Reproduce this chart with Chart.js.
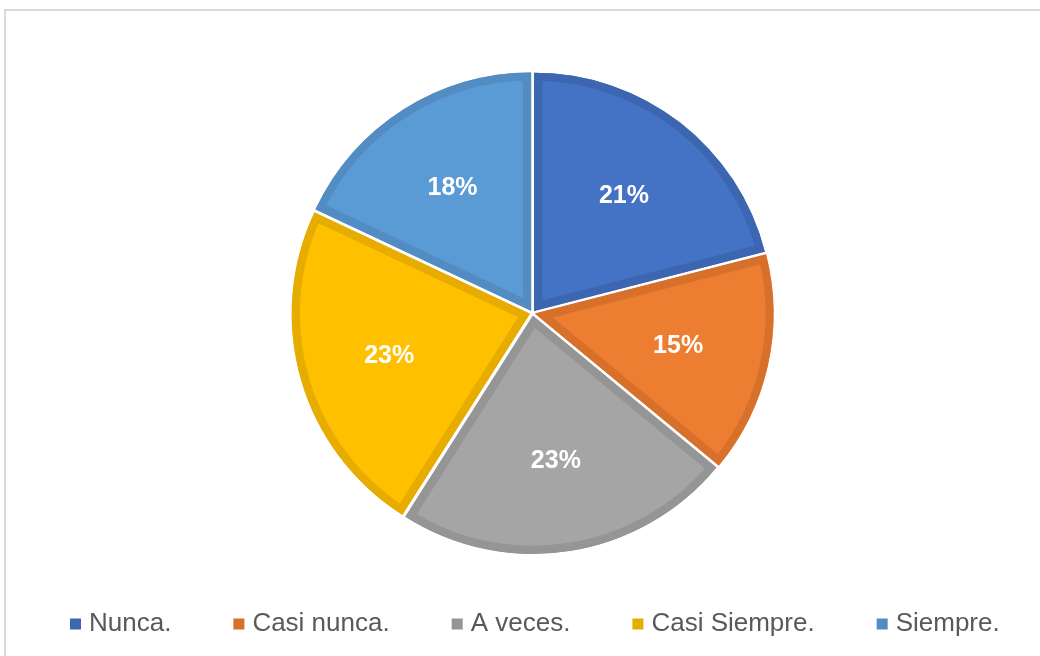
<!DOCTYPE html>
<html>
<head>
<meta charset="utf-8">
<script src="https://cdn.jsdelivr.net/npm/chart.js@4/dist/chart.umd.min.js"></script>
<style>
  html, body { margin: 0; padding: 0; background: #ffffff; overflow: hidden; }
  #wrap { position: relative; width: 1040px; height: 656px; }
  #frame { position: absolute; left: 4px; top: 9px; width: 1100px; height: 700px; border: 2px solid #d9d9d9; box-sizing: border-box; }
  #c { position: absolute; left: 0; top: 0; }
</style>
</head>
<body>
<div id="wrap">
  <div id="frame"></div>
  <canvas id="c" width="1040" height="656"></canvas>
</div>
<script>
const categories = ['Nunca.', 'Casi nunca.', 'A veces.', 'Casi Siempre.', 'Siempre.'];
const percentages = [21, 15, 23, 23, 18];
const fillColors = ['#4472C4', '#ED7D31', '#A5A5A5', '#FFC000', '#5B9BD5'];
const edgeColors = ['#3D66B1', '#D6702A', '#959595', '#E6AD00', '#528CC2'];

const labelPlugin = {
  id: 'sliceLabels',
  afterDatasetsDraw(chart) {
    const ctx = chart.ctx;
    const meta = chart.getDatasetMeta(0);
    ctx.save();
    ctx.fillStyle = '#ffffff';
    ctx.font = 'bold 25px "Liberation Sans", Arial, sans-serif';
    ctx.textAlign = 'center';
    ctx.textBaseline = 'middle';
    meta.data.forEach((arc, i) => {
      const p = arc.getProps(['x', 'y', 'startAngle', 'endAngle', 'outerRadius'], true);
      const mid = (p.startAngle + p.endAngle) / 2;
      const r = p.outerRadius * 0.627;
      ctx.fillText(percentages[i] + '%', p.x + Math.cos(mid) * r, p.y + Math.sin(mid) * r + 1);
    });
    ctx.restore();
  }
};

// Legend drawn on the chart canvas, one row, Excel-like spacing
const legendPlugin = {
  id: 'rowLegend',
  afterDraw(chart) {
    const ctx = chart.ctx;
    ctx.save();
    ctx.font = '26px "Liberation Sans", Arial, sans-serif';
    ctx.textBaseline = 'middle';
    ctx.textAlign = 'left';
    const yMid = 624;
    const box = 11, boxToText = 8, itemGap = 62;
    let x = 70;
    categories.forEach((c, i) => {
      ctx.fillStyle = edgeColors[i];
      ctx.fillRect(x, yMid - box / 2, box, box);
      ctx.fillStyle = '#595959';
      const tx = x + box + boxToText;
      ctx.fillText(c, tx, yMid);
      x = tx + ctx.measureText(c).width + itemGap;
    });
    ctx.restore();
  }
};

new Chart(document.getElementById('c'), {
  type: 'pie',
  data: {
    labels: categories,
    datasets: [{
      data: percentages,
      backgroundColor: fillColors,
      borderColor: edgeColors,
      borderWidth: 8,
      borderAlign: 'inner',
      offset: 12,
      hoverOffset: 0
    }]
  },
  options: {
    responsive: false,
    animation: false,
    devicePixelRatio: 1,
    layout: { padding: { top: 69, bottom: 99, left: 25, right: 0 } },
    plugins: {
      tooltip: { enabled: false },
      legend: { display: false }
    }
  },
  plugins: [labelPlugin, legendPlugin]
});
</script>
</body>
</html>
